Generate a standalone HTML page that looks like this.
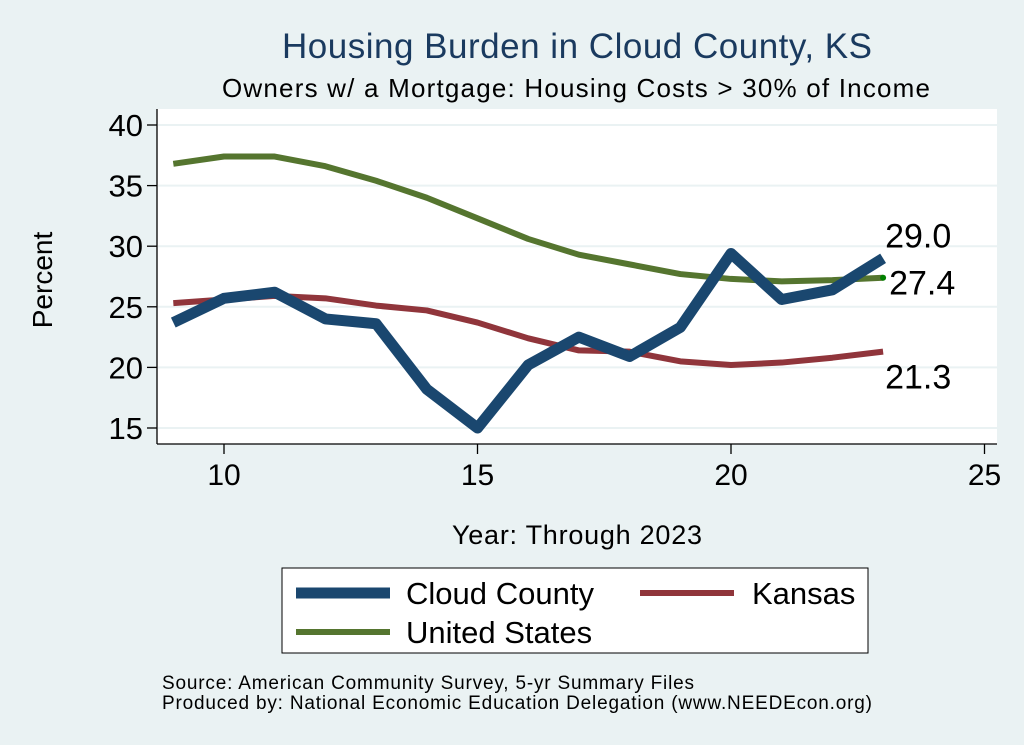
<!DOCTYPE html>
<html><head><meta charset="utf-8"><style>
html,body{margin:0;padding:0;background:#eaf2f3;}
svg{display:block;font-family:"Liberation Sans",Arial,sans-serif;}
</style></head><body>
<svg id="chart" width="1024" height="745" viewBox="0 0 1024 745">
<rect x="0" y="0" width="1024" height="745" fill="#eaf2f3"/>
<text x="577" y="58" font-size="35" fill="#1a3a5f" text-anchor="middle" textLength="590">Housing Burden in Cloud County, KS</text>
<text x="576" y="97" font-size="26" fill="#000" text-anchor="middle" textLength="708">Owners w/ a Mortgage: Housing Costs &gt; 30% of Income</text>
<rect x="157" y="109" width="840" height="335" fill="#fff"/>
<g id="grid"></g>
<g id="axes"></g>
<g id="series"></g>
<text transform="translate(52,280) rotate(-90)" font-size="28" text-anchor="middle">Percent</text>
<text x="577" y="544" font-size="27" text-anchor="middle" textLength="250">Year: Through 2023</text>
<g>
<rect x="282" y="568" width="586" height="85" fill="#fff" stroke="#000" stroke-width="1"/>
<line x1="296" y1="593" x2="390" y2="593" stroke="#1a476f" stroke-width="11"/>
<text x="406" y="604" font-size="31" textLength="188">Cloud County</text>
<line x1="640" y1="593" x2="734" y2="593" stroke="#90353b" stroke-width="6"/>
<text x="752" y="604" font-size="31">Kansas</text>
<line x1="296" y1="632" x2="390" y2="632" stroke="#55752f" stroke-width="6"/>
<text x="406" y="643" font-size="31">United States</text>
</g>
<text x="162" y="689" font-size="19" textLength="532">Source: American Community Survey, 5-yr Summary Files</text>
<text x="162" y="709" font-size="19" textLength="710">Produced by: National Economic Education Delegation (www.NEEDEcon.org)</text>
</svg>
<script>
const years=[9,10,11,12,13,14,15,16,17,18,19,20,21,22,23];
const cloud=[23.7,25.7,26.2,24.0,23.6,18.2,15.0,20.2,22.5,20.9,23.3,29.4,25.6,26.4,29.0];
const kansas=[25.3,25.6,25.9,25.7,25.1,24.7,23.7,22.4,21.4,21.3,20.5,20.2,20.4,20.8,21.3];
const us=[36.8,37.4,37.4,36.6,35.4,34.0,32.3,30.6,29.3,28.5,27.7,27.3,27.1,27.2,27.4];
const xTicks=[10,15,20,25];
const yTicks=[15,20,25,30,35,40];
const NS="http://www.w3.org/2000/svg";
function X(v){return 224+(v-10)*50.7;}
function Y(v){return 428-(v-15)*12.12;}
function mk(tag,attrs,parent){const e=document.createElementNS(NS,tag);for(const k in attrs)e.setAttribute(k,attrs[k]);parent.appendChild(e);return e;}
const grid=document.getElementById('grid'),axes=document.getElementById('axes'),ser=document.getElementById('series');
yTicks.forEach(t=>{
 const g=mk('line',{x1:158,x2:997,y1:Y(t),y2:Y(t),stroke:'#eaf2f3','stroke-width':2},grid);
 
 
 const tk=mk('line',{x1:147,x2:157,y1:Y(t),y2:Y(t),stroke:'#000','stroke-width':1.3},axes);
 
 
 const lb=mk('text',{x:143,y:Y(t)+11,'font-size':31,'text-anchor':'end'},axes);
 lb.textContent=t;
 
 
});
xTicks.forEach(t=>{
 const tk=mk('line',{x1:X(t),x2:X(t),y1:444,y2:454,stroke:'#000','stroke-width':1.3},axes);
 
 
 const lb=mk('text',{x:X(t),y:485,'font-size':30,'text-anchor':'middle'},axes);
 lb.textContent=t;
 
 
});
const ya=mk('line',{x1:157,x2:157,y1:109,y2:444,stroke:'#000','stroke-width':1.3},axes);


const xa=mk('line',{x1:157,x2:997,y1:444,y2:444,stroke:'#000','stroke-width':1.3},axes);


function line(vals,color,w,name){
 const p=mk('polyline',{points:vals.map((v,i)=>X(years[i])+','+Y(v)).join(' '),fill:'none',stroke:color,'stroke-width':w,'stroke-linejoin':'round','stroke-linecap':'butt'},ser);
 
 
}
line(kansas,'#90353b',6,'line-kansas');
line(us,'#55752f',6,'line-us');
line(cloud,'#1a476f',11,'line-cloud-county');
const n=years.length-1;
const dot=mk('circle',{cx:X(years[n]),cy:Y(us[n]),r:3,fill:'#008000'},ser);


const labels=[[cloud[n],Y(cloud[n])-11,'end-label-cloud'],[us[n],Y(us[n])+17,'end-label-us'],[kansas[n],Y(kansas[n])+37,'end-label-kansas']];
labels.forEach(([v,y,nm],i)=>{
 const t=mk('text',{x:X(years[n])+(i==1?6:2),y:y,'font-size':34},ser);
 t.textContent=v.toFixed(1);
 
 
});
</script>
</body></html>
